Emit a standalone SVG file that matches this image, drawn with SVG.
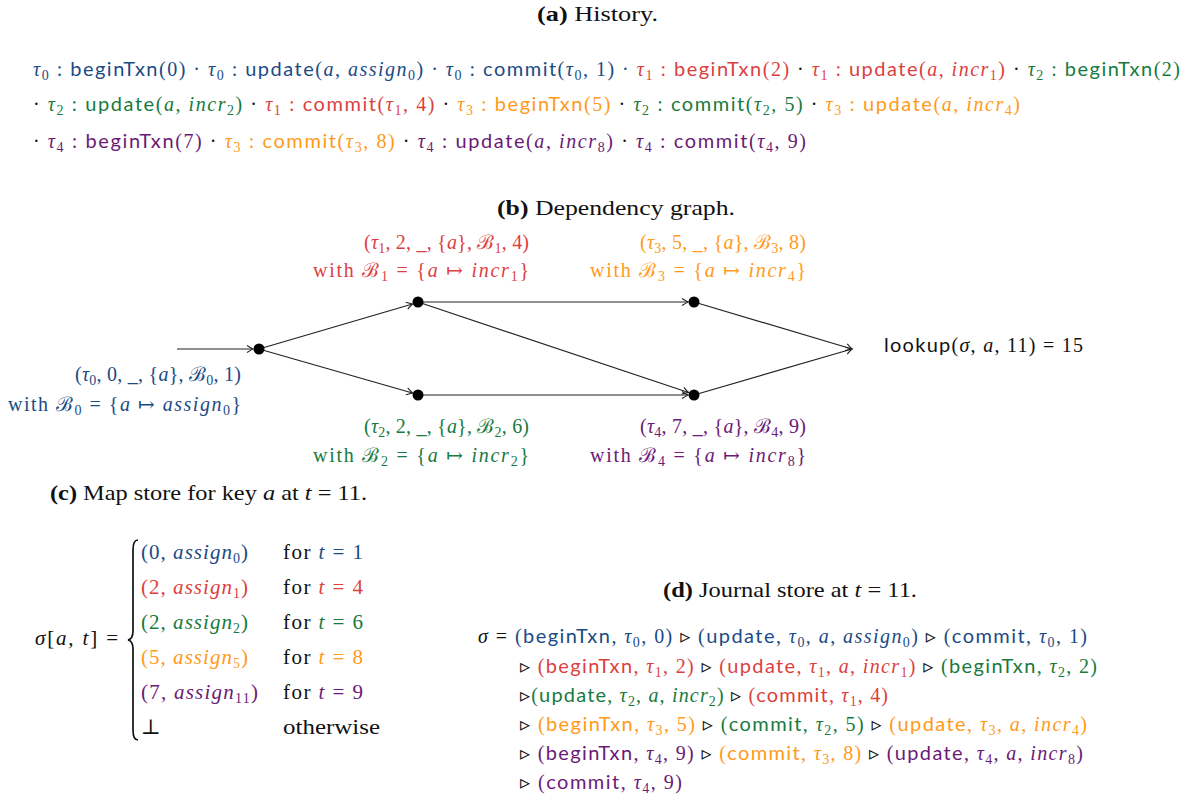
<svg xmlns="http://www.w3.org/2000/svg" width="1195" height="801" viewBox="0 0 1195 801">
<style>
text{font-family:"Liberation Serif","DejaVu Serif",serif;font-size:20px;fill:#111}
.sf{font-family:Lato,"Liberation Sans",sans-serif}
.i{font-style:italic}
.bd{font-weight:bold}
.sub{font-size:14px;baseline-shift:-4px}
.lbl{font-size:20px}
.ttl{font-size:21px}
.ms{font-size:21px}
.b{fill:#1b4b85}.r{fill:#dc3f3f}.g{fill:#187a3e}.o{fill:#ff9a1a}.p{fill:#6b1a76}
.e{stroke:#222;stroke-width:1.2;fill:none;marker-end:url(#ah)}
.dot{fill:#000}
</style>
<defs>
<marker id="ah" viewBox="-8 -5 10 10" refX="0" refY="0" markerWidth="10" markerHeight="10" markerUnits="userSpaceOnUse" orient="auto">
<path d="M-6,-3.5 Q-2,-1 0,0 Q-2,1 -6,3.5" fill="none" stroke="#222" stroke-width="1.1"/>
</marker>
</defs>
<rect width="1195" height="801" fill="#fff"/>

<!-- (a) History -->
<g id="history">
<text class="ttl" x="537" y="21" textLength="121" lengthAdjust="spacingAndGlyphs"><tspan class="bd">(a)</tspan> History.</text>
<text x="33" y="76" textLength="1147" lengthAdjust="spacing"><tspan class="b"><tspan class="i">τ</tspan><tspan class="sub">0</tspan> : <tspan class="sf">beginTxn</tspan>(0) · <tspan class="i">τ</tspan><tspan class="sub">0</tspan> : <tspan class="sf">update</tspan>(<tspan class="i">a</tspan>, <tspan class="i">assign</tspan><tspan class="sub">0</tspan>) · <tspan class="i">τ</tspan><tspan class="sub">0</tspan> : <tspan class="sf">commit</tspan>(<tspan class="i">τ</tspan><tspan class="sub">0</tspan>, 1) · </tspan> <tspan class="r"><tspan class="i">τ</tspan><tspan class="sub">1</tspan> : <tspan class="sf">beginTxn</tspan>(2)</tspan> · <tspan class="r"><tspan class="i">τ</tspan><tspan class="sub">1</tspan> : <tspan class="sf">update</tspan>(<tspan class="i">a</tspan>, <tspan class="i">incr</tspan><tspan class="sub">1</tspan>)</tspan> · <tspan class="g"><tspan class="i">τ</tspan><tspan class="sub">2</tspan> : <tspan class="sf">beginTxn</tspan>(2)</tspan></text>
<text x="33" y="111" textLength="987" lengthAdjust="spacing">· <tspan class="g"><tspan class="i">τ</tspan><tspan class="sub">2</tspan> : <tspan class="sf">update</tspan>(<tspan class="i">a</tspan>, <tspan class="i">incr</tspan><tspan class="sub">2</tspan>)</tspan> · <tspan class="r"><tspan class="i">τ</tspan><tspan class="sub">1</tspan> : <tspan class="sf">commit</tspan>(<tspan class="i">τ</tspan><tspan class="sub">1</tspan>, 4)</tspan> ·  <tspan class="o"><tspan class="i">τ</tspan><tspan class="sub">3</tspan> : <tspan class="sf">beginTxn</tspan>(5)</tspan> · <tspan class="g"><tspan class="i">τ</tspan><tspan class="sub">2</tspan> : <tspan class="sf">commit</tspan>(<tspan class="i">τ</tspan><tspan class="sub">2</tspan>, 5)</tspan> · <tspan class="o"><tspan class="i">τ</tspan><tspan class="sub">3</tspan> : <tspan class="sf">update</tspan>(<tspan class="i">a</tspan>, <tspan class="i">incr</tspan><tspan class="sub">4</tspan>)</tspan></text>
<text x="33" y="148" textLength="773" lengthAdjust="spacing">·  <tspan class="p"><tspan class="i">τ</tspan><tspan class="sub">4</tspan> : <tspan class="sf">beginTxn</tspan>(7)</tspan> · <tspan class="o"><tspan class="i">τ</tspan><tspan class="sub">3</tspan> : <tspan class="sf">commit</tspan>(<tspan class="i">τ</tspan><tspan class="sub">3</tspan>, 8)</tspan> · <tspan class="p"><tspan class="i">τ</tspan><tspan class="sub">4</tspan> : <tspan class="sf">update</tspan>(<tspan class="i">a</tspan>, <tspan class="i">incr</tspan><tspan class="sub">8</tspan>)</tspan> · <tspan class="p"><tspan class="i">τ</tspan><tspan class="sub">4</tspan> : <tspan class="sf">commit</tspan>(<tspan class="i">τ</tspan><tspan class="sub">4</tspan>, 9)</tspan></text>
</g>

<!-- (b) Dependency graph -->
<text class="ttl" x="497" y="215" textLength="238" lengthAdjust="spacingAndGlyphs"><tspan class="bd">(b)</tspan> Dependency graph.</text>

<g id="connectors">
<line class="e" x1="177" y1="349" x2="253" y2="349"/>
<line class="e" x1="259" y1="349" x2="412.5" y2="304"/>
<line class="e" x1="259" y1="349" x2="412.5" y2="393"/>
<line class="e" x1="418" y1="302" x2="688" y2="302"/>
<line class="e" x1="418" y1="302" x2="688.5" y2="392.5"/>
<line class="e" x1="418" y1="395" x2="688" y2="395"/>
<line class="e" x1="694" y1="302" x2="852" y2="349"/>
<line class="e" x1="694" y1="395" x2="852" y2="349"/>
</g>

<g id="n0">
<circle class="dot" cx="259" cy="349" r="5.5"/>
<text class="lbl b" x="241" y="381" text-anchor="end" textLength="166" lengthAdjust="spacing">(<tspan class="i">τ</tspan><tspan class="sub">0</tspan>, 0, _, {<tspan class="i">a</tspan>}, ℬ<tspan class="sub">0</tspan>, 1)</text>
<text class="lbl b" x="241" y="411" text-anchor="end" textLength="233" lengthAdjust="spacing">with ℬ<tspan class="sub">0</tspan> = {<tspan class="i">a</tspan> ↦ <tspan class="i">assign</tspan><tspan class="sub">0</tspan>}</text>
</g>
<g id="n1">
<circle class="dot" cx="418" cy="302" r="5.5"/>
<text class="lbl r" x="529" y="249" text-anchor="end" textLength="165" lengthAdjust="spacing">(<tspan class="i">τ</tspan><tspan class="sub">1</tspan>, 2, _, {<tspan class="i">a</tspan>}, ℬ<tspan class="sub">1</tspan>, 4)</text>
<text class="lbl r" x="529" y="277" text-anchor="end" textLength="216" lengthAdjust="spacing">with ℬ<tspan class="sub">1</tspan> = {<tspan class="i">a</tspan> ↦ <tspan class="i">incr</tspan><tspan class="sub">1</tspan>}</text>
</g>
<g id="n2">
<circle class="dot" cx="418" cy="395" r="5.5"/>
<text class="lbl g" x="529" y="433" text-anchor="end" textLength="165" lengthAdjust="spacing">(<tspan class="i">τ</tspan><tspan class="sub">2</tspan>, 2, _, {<tspan class="i">a</tspan>}, ℬ<tspan class="sub">2</tspan>, 6)</text>
<text class="lbl g" x="529" y="462" text-anchor="end" textLength="216" lengthAdjust="spacing">with ℬ<tspan class="sub">2</tspan> = {<tspan class="i">a</tspan> ↦ <tspan class="i">incr</tspan><tspan class="sub">2</tspan>}</text>
</g>
<g id="n3">
<circle class="dot" cx="694" cy="302" r="5.5"/>
<text class="lbl o" x="806" y="249" text-anchor="end" textLength="166" lengthAdjust="spacing">(<tspan class="i">τ</tspan><tspan class="sub">3</tspan>, 5, _, {<tspan class="i">a</tspan>}, ℬ<tspan class="sub">3</tspan>, 8)</text>
<text class="lbl o" x="806" y="277" text-anchor="end" textLength="216" lengthAdjust="spacing">with ℬ<tspan class="sub">3</tspan> = {<tspan class="i">a</tspan> ↦ <tspan class="i">incr</tspan><tspan class="sub">4</tspan>}</text>
</g>
<g id="n4">
<circle class="dot" cx="694" cy="395" r="5.5"/>
<text class="lbl p" x="806" y="433" text-anchor="end" textLength="166" lengthAdjust="spacing">(<tspan class="i">τ</tspan><tspan class="sub">4</tspan>, 7, _, {<tspan class="i">a</tspan>}, ℬ<tspan class="sub">4</tspan>, 9)</text>
<text class="lbl p" x="806" y="462" text-anchor="end" textLength="216" lengthAdjust="spacing">with ℬ<tspan class="sub">4</tspan> = {<tspan class="i">a</tspan> ↦ <tspan class="i">incr</tspan><tspan class="sub">8</tspan>}</text>
</g>
<g id="lookup">
<text x="884" y="352" textLength="199" lengthAdjust="spacing"><tspan class="sf">lookup</tspan>(<tspan class="i">σ</tspan>, <tspan class="i">a</tspan>, 11) = 15</text>
</g>

<!-- (c) Map store -->
<g id="mapstore">
<text class="ttl" x="50" y="500" textLength="317" lengthAdjust="spacingAndGlyphs"><tspan class="bd">(c)</tspan> Map store for key <tspan class="i">a</tspan> at <tspan class="i">t</tspan> = 11.</text>
<text class="ms" x="35" y="645" textLength="83" lengthAdjust="spacing"><tspan class="i">σ</tspan>[<tspan class="i">a</tspan>, <tspan class="i">t</tspan>] =</text>
<path d="M138,540 Q133,540 133,550 L133,631 Q133,639 128,640 Q133,641 133,649 L133,730 Q133,740 138,740" fill="none" stroke="#111" stroke-width="1.7"/>
<text class="ms b" x="141" y="559" textLength="107" lengthAdjust="spacing">(0, <tspan class="i">assign</tspan><tspan class="sub">0</tspan>)</text>
<text class="ms" x="283" y="559" textLength="80" lengthAdjust="spacing">for <tspan class="b i">t</tspan><tspan class="b"> = 1</tspan></text>
<text class="ms r" x="141" y="594" textLength="107" lengthAdjust="spacing">(2, <tspan class="i">assign</tspan><tspan class="sub">1</tspan>)</text>
<text class="ms" x="283" y="594" textLength="80" lengthAdjust="spacing">for <tspan class="r i">t</tspan><tspan class="r"> = 4</tspan></text>
<text class="ms g" x="141" y="629" textLength="107" lengthAdjust="spacing">(2, <tspan class="i">assign</tspan><tspan class="sub">2</tspan>)</text>
<text class="ms" x="283" y="629" textLength="80" lengthAdjust="spacing">for <tspan class="g i">t</tspan><tspan class="g"> = 6</tspan></text>
<text class="ms o" x="141" y="664" textLength="107" lengthAdjust="spacing">(5, <tspan class="i">assign</tspan><tspan class="sub">5</tspan>)</text>
<text class="ms" x="283" y="664" textLength="80" lengthAdjust="spacing">for <tspan class="o i">t</tspan><tspan class="o"> = 8</tspan></text>
<text class="ms p" x="141" y="699" textLength="117" lengthAdjust="spacing">(7, <tspan class="i">assign</tspan><tspan class="sub">11</tspan>)</text>
<text class="ms" x="283" y="699" textLength="80" lengthAdjust="spacing">for <tspan class="p i">t</tspan><tspan class="p"> = 9</tspan></text>
<text class="ms" x="141" y="734">⊥</text>
<text class="ms" x="283" y="734" textLength="97" lengthAdjust="spacingAndGlyphs">otherwise</text>
</g>

<!-- (d) Journal store -->
<g id="journal">
<text class="ttl" x="663" y="597" textLength="254" lengthAdjust="spacingAndGlyphs"><tspan class="bd">(d)</tspan> Journal store at <tspan class="i">t</tspan> = 11.</text>
<text x="478" y="643" textLength="609" lengthAdjust="spacing"><tspan class="i">σ</tspan> = <tspan class="b">(<tspan class="sf">beginTxn</tspan>, <tspan class="i">τ</tspan><tspan class="sub">0</tspan>, 0)</tspan> ▹ <tspan class="b">(<tspan class="sf">update</tspan>, <tspan class="i">τ</tspan><tspan class="sub">0</tspan>, <tspan class="i">a</tspan>, <tspan class="i">assign</tspan><tspan class="sub">0</tspan>)</tspan> ▹ <tspan class="b">(<tspan class="sf">commit</tspan>, <tspan class="i">τ</tspan><tspan class="sub">0</tspan>, 1)</tspan></text>
<text x="520" y="673" textLength="577" lengthAdjust="spacing">▹ <tspan class="r">(<tspan class="sf">beginTxn</tspan>, <tspan class="i">τ</tspan><tspan class="sub">1</tspan>, 2)</tspan> ▹ <tspan class="r">(<tspan class="sf">update</tspan>, <tspan class="i">τ</tspan><tspan class="sub">1</tspan>, <tspan class="i">a</tspan>, <tspan class="i">incr</tspan><tspan class="sub">1</tspan>)</tspan> ▹ <tspan class="g">(<tspan class="sf">beginTxn</tspan>, <tspan class="i">τ</tspan><tspan class="sub">2</tspan>, 2)</tspan></text>
<text x="520" y="702" textLength="368" lengthAdjust="spacing">▹<tspan class="g">(<tspan class="sf">update</tspan>, <tspan class="i">τ</tspan><tspan class="sub">2</tspan>, <tspan class="i">a</tspan>, <tspan class="i">incr</tspan><tspan class="sub">2</tspan>)</tspan> ▹ <tspan class="r">(<tspan class="sf">commit</tspan>, <tspan class="i">τ</tspan><tspan class="sub">1</tspan>, 4)</tspan></text>
<text x="520" y="731" textLength="567" lengthAdjust="spacing">▹ <tspan class="o">(<tspan class="sf">beginTxn</tspan>, <tspan class="i">τ</tspan><tspan class="sub">3</tspan>, 5)</tspan> ▹ <tspan class="g">(<tspan class="sf">commit</tspan>, <tspan class="i">τ</tspan><tspan class="sub">2</tspan>, 5)</tspan> ▹ <tspan class="o">(<tspan class="sf">update</tspan>, <tspan class="i">τ</tspan><tspan class="sub">3</tspan>, <tspan class="i">a</tspan>, <tspan class="i">incr</tspan><tspan class="sub">4</tspan>)</tspan></text>
<text x="520" y="760" textLength="563" lengthAdjust="spacing">▹ <tspan class="p">(<tspan class="sf">beginTxn</tspan>, <tspan class="i">τ</tspan><tspan class="sub">4</tspan>, 9)</tspan> ▹ <tspan class="o">(<tspan class="sf">commit</tspan>, <tspan class="i">τ</tspan><tspan class="sub">3</tspan>, 8)</tspan> ▹ <tspan class="p">(<tspan class="sf">update</tspan>, <tspan class="i">τ</tspan><tspan class="sub">4</tspan>, <tspan class="i">a</tspan>, <tspan class="i">incr</tspan><tspan class="sub">8</tspan>)</tspan></text>
<text x="520" y="789" textLength="162" lengthAdjust="spacing">▹ <tspan class="p">(<tspan class="sf">commit</tspan>, <tspan class="i">τ</tspan><tspan class="sub">4</tspan>, 9)</tspan></text>
</g>
</svg>
